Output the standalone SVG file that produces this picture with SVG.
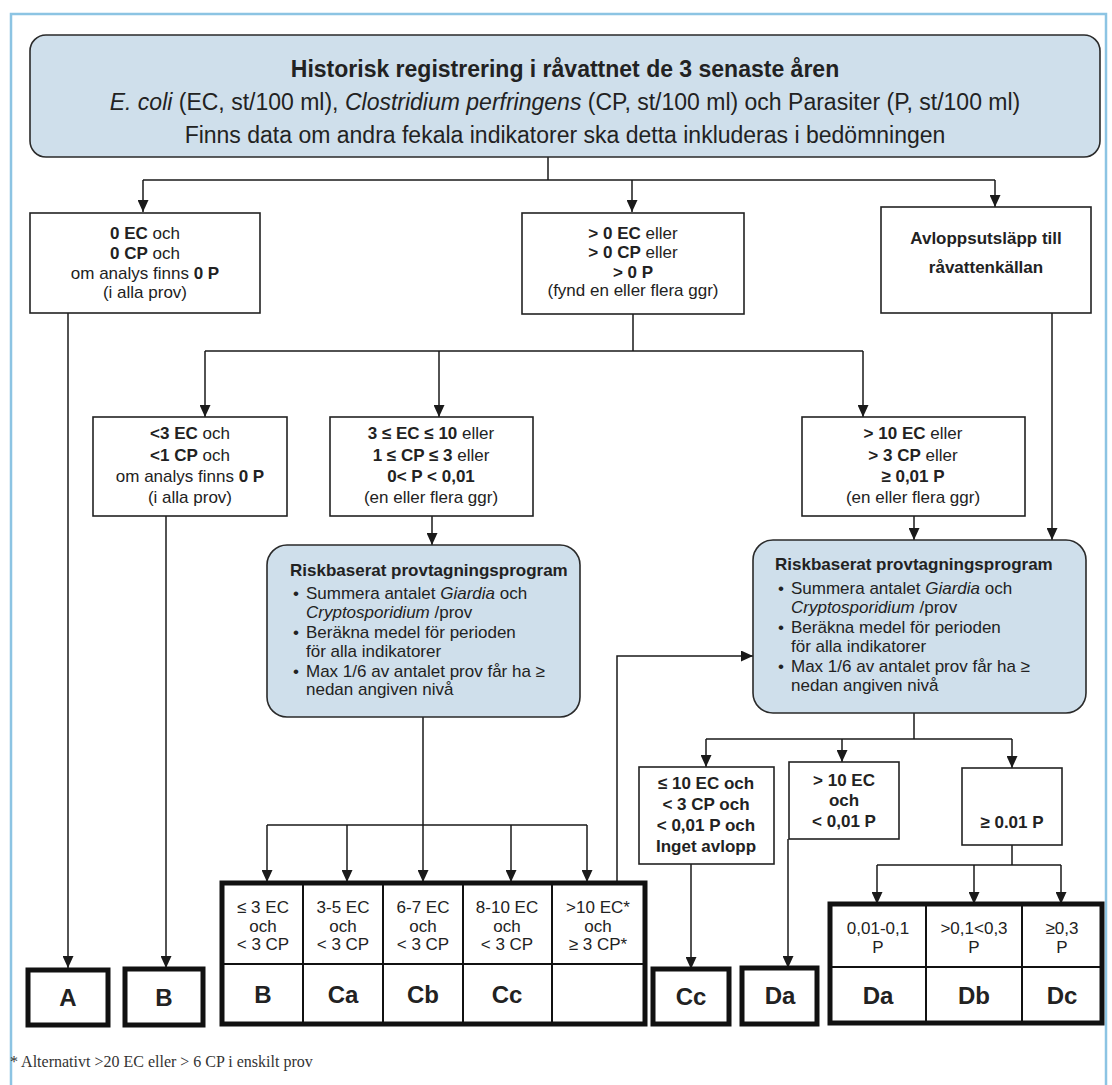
<svg xmlns="http://www.w3.org/2000/svg" width="1112" height="1085" viewBox="0 0 1112 1085">
<defs>
<marker id="ah" markerUnits="userSpaceOnUse" markerWidth="12" markerHeight="11" refX="12" refY="5.5" orient="auto">
<path d="M0,0 L12,5.5 L0,11 z" fill="#1a1a1a"/>
</marker>
<style>
text{font-family:"Liberation Sans",Arial,sans-serif;fill:#222;}
.t{font-size:17px;text-anchor:middle;}
.top{font-size:23px;text-anchor:middle;}
.bl{font-size:17px;}
.lab{font-size:24px;font-weight:bold;text-anchor:middle;}
.b{font-weight:bold;}
.i{font-style:italic;}
.box{fill:#fff;stroke:#222;stroke-width:1.6;}
.blue{fill:#cfdfeb;stroke:#2a2a2a;stroke-width:1.6;}
.thick{fill:#fff;stroke:#111;stroke-width:5;}
.cell{stroke:#111;stroke-width:2;fill:none;}
.c{fill:none;stroke:#1a1a1a;stroke-width:1.5;}
.a{fill:none;stroke:#1a1a1a;stroke-width:1.5;marker-end:url(#ah);}
</style>
</defs>
<rect width="1112" height="1085" fill="#fff"/>
<rect x="11" y="14" width="1095" height="1100" fill="none" stroke="#8cc4e3" stroke-width="2.5"/>

<g id="connectors">
<path class="c" d="M548,157 V180 M143,180 H995"/>
<path class="a" d="M143,180 V212"/>
<path class="a" d="M632,180 V212"/>
<path class="a" d="M995,180 V207"/>
<path class="a" d="M68,313 V968"/>
<path class="c" d="M633,314 V351 M205,351 H863"/>
<path class="a" d="M205,351 V417"/>
<path class="a" d="M439,351 V417"/>
<path class="a" d="M863,351 V417"/>
<path class="a" d="M1052,313 V540"/>
<path class="a" d="M166,516 V968"/>
<path class="a" d="M432,516 V545"/>
<path class="a" d="M914,516 V540"/>
<path class="c" d="M423,717 V825 M267,825 H587"/>
<path class="a" d="M267,825 V882"/>
<path class="a" d="M347,825 V882"/>
<path class="a" d="M423,825 V882"/>
<path class="a" d="M511,825 V882"/>
<path class="a" d="M587,825 V882"/>
<path class="a" d="M617,883 V656 H753"/>
<path class="c" d="M914,713 V739 M706,739 H1012"/>
<path class="a" d="M706,739 V767"/>
<path class="a" d="M842,739 V762"/>
<path class="a" d="M1012,739 V768"/>
<path class="a" d="M691,864 V969"/>
<path class="a" d="M788,839 V968"/>
<path class="c" d="M1012,845 V865 M877,865 H1061"/>
<path class="a" d="M877,865 V904"/>
<path class="a" d="M974,865 V904"/>
<path class="a" d="M1061,865 V904"/>
</g>

<g id="top">
<rect class="blue" x="30" y="35" width="1070" height="122" rx="16"/>
<text class="top b" x="565" y="77">Historisk registrering i råvattnet de 3 senaste åren</text>
<text class="top" x="565" y="110"><tspan class="i">E. coli</tspan> (EC, st/100 ml), <tspan class="i">Clostridium perfringens</tspan> (CP, st/100 ml) och Parasiter (P, st/100 ml)</text>
<text class="top" x="565" y="143">Finns data om andra fekala indikatorer ska detta inkluderas i bedömningen</text>
</g>

<g id="n-zero">
<rect class="box" x="30" y="213" width="230" height="100"/>
<text class="t" x="145" y="239"><tspan class="b">0 EC</tspan> och</text>
<text class="t" x="145" y="259"><tspan class="b">0 CP</tspan> och</text>
<text class="t" x="145" y="279">om analys finns <tspan class="b">0 P</tspan></text>
<text class="t" x="145" y="298">(i alla prov)</text>
</g>

<g id="n-pos">
<rect class="box" x="522" y="213" width="222" height="101"/>
<text class="t" x="633" y="239"><tspan class="b">&gt; 0 EC</tspan> eller</text>
<text class="t" x="633" y="258"><tspan class="b">&gt; 0 CP</tspan> eller</text>
<text class="t" x="633" y="278"><tspan class="b">&gt; 0 P</tspan></text>
<text class="t" x="633" y="296">(fynd en eller flera ggr)</text>
</g>

<g id="n-avlopp">
<rect class="box" x="881" y="207" width="210" height="106"/>
<text class="t b" x="986" y="244">Avloppsutsläpp till</text>
<text class="t b" x="986" y="273">råvattenkällan</text>
</g>

<g id="n-low">
<rect class="box" x="93" y="417" width="194" height="99"/>
<text class="t" x="190" y="439"><tspan class="b">&lt;3 EC</tspan> och</text>
<text class="t" x="190" y="461"><tspan class="b">&lt;1 CP</tspan> och</text>
<text class="t" x="190" y="482">om analys finns <tspan class="b">0 P</tspan></text>
<text class="t" x="190" y="503">(i alla prov)</text>
</g>

<g id="n-mid">
<rect class="box" x="330" y="417" width="203" height="99"/>
<text class="t" x="431" y="439"><tspan class="b">3 ≤ EC ≤ 10</tspan> eller</text>
<text class="t" x="431" y="461"><tspan class="b">1 ≤ CP ≤ 3</tspan> eller</text>
<text class="t" x="431" y="482"><tspan class="b">0&lt; P &lt; 0,01</tspan></text>
<text class="t" x="431" y="503">(en eller flera ggr)</text>
</g>

<g id="n-high">
<rect class="box" x="802" y="417" width="223" height="99"/>
<text class="t" x="913" y="439"><tspan class="b">&gt; 10 EC</tspan> eller</text>
<text class="t" x="913" y="461"><tspan class="b">&gt; 3 CP</tspan> eller</text>
<text class="t" x="913" y="482"><tspan class="b">≥ 0,01 P</tspan></text>
<text class="t" x="913" y="503">(en eller flera ggr)</text>
</g>

<g id="n-risk1">
<rect class="blue" x="267" y="545" width="313" height="172" rx="20"/>
<text class="bl b" x="290" y="576">Riskbaserat provtagningsprogram</text>
<text class="bl" x="293" y="599">•</text>
<text class="bl" x="306" y="599">Summera antalet <tspan class="i">Giardia</tspan> och</text>
<text class="bl" x="306" y="618"><tspan class="i">Cryptosporidium</tspan> /prov</text>
<text class="bl" x="293" y="638">•</text>
<text class="bl" x="306" y="638">Beräkna medel för perioden</text>
<text class="bl" x="306" y="657">för alla indikatorer</text>
<text class="bl" x="293" y="677">•</text>
<text class="bl" x="306" y="677">Max 1/6 av antalet prov får ha ≥</text>
<text class="bl" x="306" y="695">nedan angiven nivå</text>
</g>

<g id="n-risk2">
<rect class="blue" x="753" y="540" width="333" height="173" rx="20"/>
<text class="bl b" x="775" y="570">Riskbaserat provtagningsprogram</text>
<text class="bl" x="778" y="594">•</text>
<text class="bl" x="791" y="594">Summera antalet <tspan class="i">Giardia</tspan> och</text>
<text class="bl" x="791" y="613"><tspan class="i">Cryptosporidium</tspan> /prov</text>
<text class="bl" x="778" y="633">•</text>
<text class="bl" x="791" y="633">Beräkna medel för perioden</text>
<text class="bl" x="791" y="652">för alla indikatorer</text>
<text class="bl" x="778" y="672">•</text>
<text class="bl" x="791" y="672">Max 1/6 av antalet prov får ha ≥</text>
<text class="bl" x="791" y="691">nedan angiven nivå</text>
</g>

<g id="n-cc-cond">
<rect class="box" x="639" y="767" width="135" height="97"/>
<text class="t b" x="706" y="789">≤ 10 EC och</text>
<text class="t b" x="706" y="810">&lt; 3 CP och</text>
<text class="t b" x="706" y="831">&lt; 0,01 P och</text>
<text class="t b" x="706" y="852">Inget avlopp</text>
</g>

<g id="n-da-cond">
<rect class="box" x="789" y="762" width="110" height="77"/>
<text class="t b" x="844" y="786">&gt; 10 EC</text>
<text class="t b" x="844" y="806">och</text>
<text class="t b" x="844" y="827">&lt; 0,01 P</text>
</g>

<g id="n-p-cond">
<rect class="box" x="962" y="768" width="100" height="77"/>
<text class="t b" x="1012" y="828">≥ 0.01 P</text>
</g>

<g id="n-A">
<rect class="thick" x="28" y="970" width="80" height="55"/>
<text class="lab" x="68" y="1006">A</text>
</g>
<g id="n-B">
<rect class="thick" x="125" y="969" width="78" height="56"/>
<text class="lab" x="164" y="1006">B</text>
</g>

<g id="n-tableC">
<rect class="thick" x="222" y="883" width="423" height="141"/>
<path class="cell" d="M303,883 V1024 M383,883 V1024 M463,883 V1024 M552,883 V1024 M222,964 H645"/>
<text class="t" x="263" y="913">≤ 3 EC</text><text class="t" x="263" y="932">och</text><text class="t" x="263" y="950">&lt; 3 CP</text>
<text class="t" x="343" y="913">3-5 EC</text><text class="t" x="343" y="932">och</text><text class="t" x="343" y="950">&lt; 3 CP</text>
<text class="t" x="423" y="913">6-7 EC</text><text class="t" x="423" y="932">och</text><text class="t" x="423" y="950">&lt; 3 CP</text>
<text class="t" x="507" y="913">8-10 EC</text><text class="t" x="507" y="932">och</text><text class="t" x="507" y="950">&lt; 3 CP</text>
<text class="t" x="598" y="913">&gt;10 EC*</text><text class="t" x="598" y="932">och</text><text class="t" x="598" y="950">≥ 3 CP*</text>
<text class="lab" x="263" y="1003">B</text>
<text class="lab" x="343" y="1003">Ca</text>
<text class="lab" x="423" y="1003">Cb</text>
<text class="lab" x="507" y="1003">Cc</text>
</g>

<g id="n-Cc">
<rect class="thick" x="653" y="969" width="76" height="55"/>
<text class="lab" x="691" y="1005">Cc</text>
</g>
<g id="n-Da">
<rect class="thick" x="742" y="968" width="75" height="56"/>
<text class="lab" x="780" y="1004">Da</text>
</g>

<g id="n-tableD">
<rect class="thick" x="830" y="904" width="272" height="119"/>
<path class="cell" d="M926,904 V1023 M1022,904 V1023 M830,967 H1102"/>
<text class="t" x="878" y="934">0,01-0,1</text><text class="t" x="878" y="953">P</text>
<text class="t" x="974" y="934">&gt;0,1&lt;0,3</text><text class="t" x="974" y="953">P</text>
<text class="t" x="1062" y="934">≥0,3</text><text class="t" x="1062" y="953">P</text>
<text class="lab" x="878" y="1004">Da</text>
<text class="lab" x="974" y="1004">Db</text>
<text class="lab" x="1062" y="1004">Dc</text>
</g>

<text x="10" y="1067" style="font-family:'Liberation Serif','Times New Roman',serif;font-size:16px;fill:#333">* Alternativt &gt;20 EC eller &gt; 6 CP i enskilt prov</text>
</svg>
